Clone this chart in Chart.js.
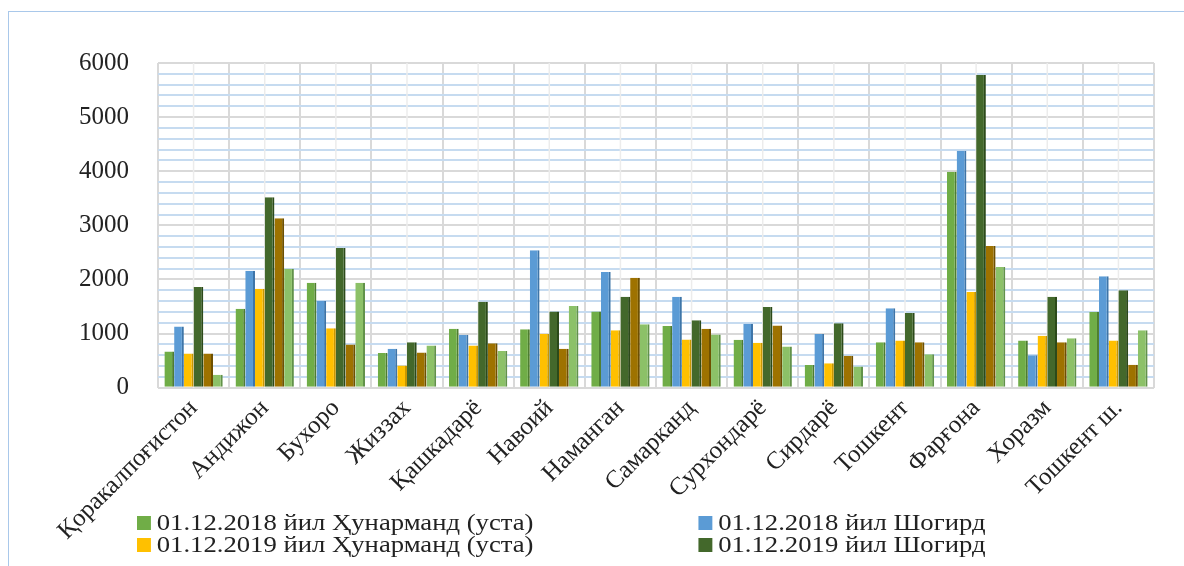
<!DOCTYPE html>
<html>
<head>
<meta charset="utf-8">
<script src="https://cdn.jsdelivr.net/npm/chart.js@4/dist/chart.umd.min.js"></script>
<style>
    html, body { margin:0; padding:0; background:#fff; overflow:hidden; }
    .wrap { position:relative; width:1184px; height:566px; }
    .frame { position:absolute; left:8px; top:11px; width:1200px; height:600px; border:1.5px solid #a9c8ea; box-sizing:border-box; pointer-events:none; }
    #chart { position:absolute; left:0; top:0; }
    .legend { position:absolute; left:137px; top:512px; display:grid; grid-template-columns:484px 340px;
        transform:scaleX(1.16); transform-origin:0 0;
        font-family:"Liberation Serif","Times New Roman",serif; font-size:23px; color:#222; line-height:22px; }
    .legend .item { display:flex; align-items:center; white-space:nowrap; }
    .legend .box { width:12px; height:14px; margin-right:5px; flex:none; }
</style>
</head>
<body>
<div class="wrap">
    <canvas id="chart" width="1184" height="566" style="width:1184px; height:566px;"></canvas>
    <div class="frame"></div>
    <div class="legend" id="legend"></div>
</div>
<script>
// 지역 이름
const regions = ['Қоракалпоғистон','Андижон','Бухоро','Жиззах','Қашкадарё','Навоий','Наманган',
    'Самарканд','Сурхондарё','Сирдарё','Тошкент','Фарғона','Хоразм','Тошкент ш.'];

// 시리즈 이름
const seriesNames = ['01.12.2018 йил Ҳунарманд (уста)','01.12.2018 йил Шогирд',
    '01.12.2019 йил Ҳунарманд (уста)','01.12.2019 йил Шогирд',
    '01.12.2020 йил Ҳунарманд (уста)','01.12.2020 йил Шогирд'];

// 값들
const usta2018   = [670, 1460, 1940, 640, 1090, 1080, 1410, 1140, 885, 420, 840, 3990, 870, 1400];
const shogird2018= [1130, 2160, 1600, 720, 980, 2540, 2140, 1680, 1180, 990, 1470, 4380, 600, 2060];
const usta2019   = [630, 1830, 1100, 410, 780, 990, 1060, 890, 830, 450, 870, 1770, 960, 870];
const shogird2019= [1860, 3520, 2580, 840, 1590, 1410, 1680, 1245, 1490, 1190, 1380, 5780, 1680, 1800];
const usta2020   = [630, 3130, 800, 650, 820, 720, 2030, 1090, 1150, 590, 840, 2620, 840, 425];
const shogird2020= [240, 2200, 1940, 780, 680, 1510, 1170, 985, 760, 390, 620, 2230, 915, 1060];

const yTicks = [0, 1000, 2000, 3000, 4000, 5000, 6000];

const colors = ['#70ad47','#5b9bd5','#ffc000','#43682b','#9e7200','#8cc168'];
const sideColors = ['#4e7d30','#3e75a8','#c99700','#2c4a1a','#6e5000','#62924a'];
const values = [usta2018, shogird2018, usta2019, shogird2019, usta2020, shogird2020];

// 카테고리 중앙 세로선
const midLines = {
    id:'midLines',
    beforeDatasetsDraw(chart){
        const {ctx, chartArea, scales:{x}} = chart;
        ctx.save();
        ctx.strokeStyle = '#ececec';
        ctx.lineWidth = 1.5;
        regions.forEach((r, i) => {
            const px = x.getPixelForValue(i);
            ctx.beginPath();
            ctx.moveTo(px, chartArea.top);
            ctx.lineTo(px, chartArea.bottom);
            ctx.stroke();
        });
        ctx.restore();
    }
};

const chart = new Chart(document.getElementById('chart'), {
    type:'bar',
    data:{
        labels:regions,
        datasets:values.map((v, i) => ({
            label:seriesNames[i],
            data:v,
            backgroundColor:colors[i],
            borderColor:sideColors[i],
            borderWidth:{top:0, left:0, bottom:0, right:2},
            borderSkipped:false,
            barPercentage:1.0,
            categoryPercentage:0.82,
        }))
    },
    options:{
        responsive:false,
        animation:false,
        layout:{ padding:{ left:50, right:30, top:63, bottom:14 } },
        plugins:{
            legend:{ display:false },
            tooltip:{ enabled:false },
        },
        scales:{
            x:{
                grid:{ color:'#d9d9d9', lineWidth:2, drawTicks:false, offset:true },
                border:{ display:false },
                ticks:{
                    minRotation:45, maxRotation:45, padding:6,
                    color:'#222',
                    font:{ family:'"Liberation Serif", "Times New Roman", serif', size:25 }
                }
            },
            y:{
                min:0, max:6000,
                afterBuildTicks(axis){
                    const t = [];
                    for(let v = 0; v <= 6000; v += 200) t.push({value:v});
                    axis.ticks = t;
                },
                grid:{
                    drawTicks:false,
                    lineWidth:2,
                    color(ctx){
                        return yTicks.includes(ctx.tick.value) ? '#d9d9d9' : '#c6dbf0';
                    }
                },
                border:{ display:false },
                ticks:{
                    autoSkip:false,
                    padding:29,
                    color:'#222',
                    font:{ family:'"Liberation Serif", "Times New Roman", serif', size:25 },
                    callback(v){ return yTicks.includes(v) ? v : ''; }
                }
            }
        }
    },
    plugins:[midLines]
});

// 범례 (아래쪽 4개만 보임)
chart.data.datasets.slice(0, 4).forEach(ds => {
    const el = document.createElement('div');
    el.className = 'item';
    el.innerHTML = `<span class="box" style="background:${ds.backgroundColor}"></span><span>${ds.label}</span>`;
    document.getElementById('legend').appendChild(el);
});
</script>
</body>
</html>
